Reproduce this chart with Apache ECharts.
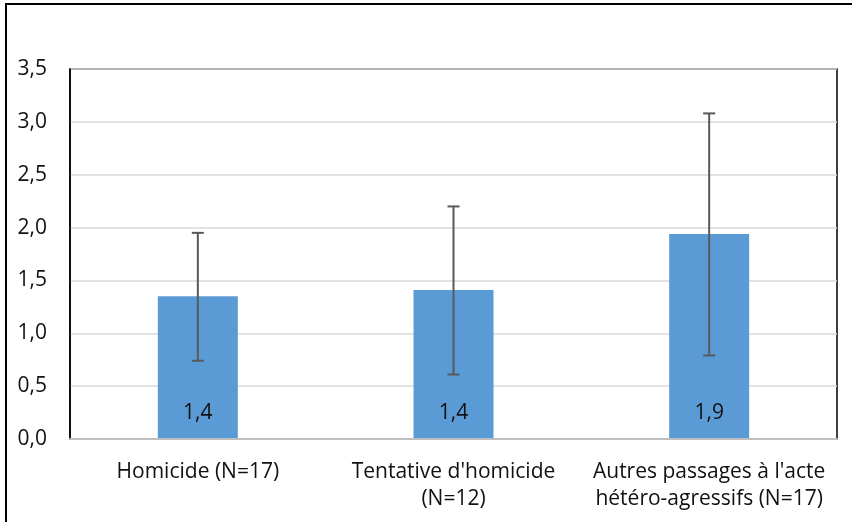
<!DOCTYPE html>
<html>
<head>
<meta charset="utf-8">
<script src="https://cdn.jsdelivr.net/npm/echarts@6/dist/echarts.min.js"></script>
<style>
    html, body { margin: 0; padding: 0; background: #fff; }
    #chart { width: 852px; height: 522px; }
</style>
</head>
<body>
<div id="chart"></div>
<script>
// categories and values
const categories = ['Homicide (N=17)', "Tentative d'homicide\n(N=12)", "Autres passages à l'acte\nhétéro-agressifs (N=17)"];
const means = [1.35, 1.41, 1.94];
const meanLabels = ['1,4', '1,4', '1,9'];
const errLow = [0.74, 0.61, 0.79];
const errHigh = [1.95, 2.20, 3.08];

const chart = echarts.init(document.getElementById('chart'));
const fontFamily = '"Open Sans", "Liberation Sans", sans-serif';
const textColor = '#111';

const option = {
    animation: false,
    // outer frame of the chart area
    graphic: [{
        type: 'rect',
        shape: { x: 6, y: 4, width: 860, height: 540 },
        style: { fill: 'none', stroke: '#000', lineWidth: 2 },
        silent: true
    }],
    grid: {
        left: 70, right: 15, top: 69, bottom: 83,
        show: true,
        borderColor: '#000',
        borderWidth: 1.5
    },
    xAxis: {
        type: 'category',
        data: categories,
        z: 5,
        axisLine: { lineStyle: { color: '#bfbfbf', width: 2 } },
        axisTick: { show: false },
        axisLabel: {
            color: textColor,
            fontFamily: fontFamily,
            fontSize: 21,
            lineHeight: 27,
            margin: 20,
            interval: 0
        }
    },
    yAxis: {
        type: 'value',
        min: 0, max: 3.5, interval: 0.5,
        axisLine: { show: true, lineStyle: { color: '#000', width: 1.5 } },
        axisTick: { show: false },
        splitLine: { lineStyle: { color: '#d9d9d9', width: 1.5 } },
        axisLabel: {
            color: textColor,
            fontFamily: fontFamily,
            fontSize: 21,
            margin: 23,
            formatter: v => v.toFixed(1).replace('.', ',')
        }
    },
    series: [{
        type: 'bar',
        data: means,
        barWidth: 80,
        itemStyle: { color: '#5b9bd5' },
        label: {
            show: true,
            position: 'insideBottom',
            distance: 15,
            color: textColor,
            fontFamily: fontFamily,
            fontSize: 21,
            formatter: p => meanLabels[p.dataIndex]
        }
    }, {
        type: 'custom',
        z: 10,
        data: categories.map((c, i) => [i, errLow[i], errHigh[i]]),
        renderItem: (params, api) => {
            const lo = api.coord([api.value(0), api.value(1)]);
            const hi = api.coord([api.value(0), api.value(2)]);
            const cap = 6;
            const style = { stroke: '#595959', lineWidth: 2 };
            return {
                type: 'group',
                children: [
                    { type: 'line', shape: { x1: lo[0], y1: lo[1], x2: hi[0], y2: hi[1] }, style: style },
                    { type: 'line', shape: { x1: lo[0] - cap, y1: lo[1], x2: lo[0] + cap, y2: lo[1] }, style: style },
                    { type: 'line', shape: { x1: hi[0] - cap, y1: hi[1], x2: hi[0] + cap, y2: hi[1] }, style: style }
                ]
            };
        }
    }]
};

chart.setOption(option);
</script>
</body>
</html>
